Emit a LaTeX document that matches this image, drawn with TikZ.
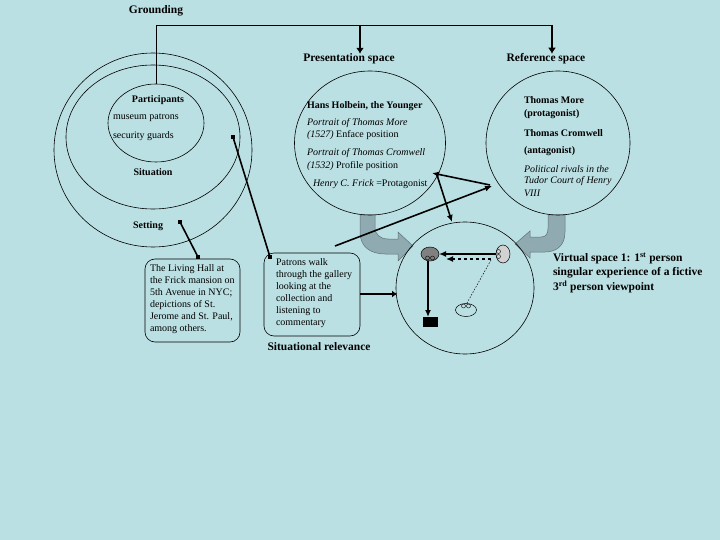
\documentclass[tikz,border=0pt]{standalone}
\usepackage{fontspec}
\setmainfont{Liberation Serif}
\usetikzlibrary{shapes.geometric,arrows.meta}
\definecolor{bg}{RGB}{187,224,227}
\definecolor{blockfill}{RGB}{143,170,176}
\definecolor{blockdraw}{RGB}{95,115,120}
\definecolor{darkgrey}{RGB}{128,128,128}
\definecolor{lightgrey}{RGB}{210,210,210}
\begin{document}
\begin{tikzpicture}[x=1pt,y=-1pt,
 every node/.style={inner sep=0pt,outer sep=0pt},
 title/.style={font=\fontsize{11.5}{14}\selectfont\bfseries},
 small/.style={font=\fontsize{10}{12}\selectfont},
 smallbold/.style={font=\fontsize{10}{12}\selectfont\bfseries},
 ring/.style={draw=black,line width=0.6pt,ellipse},
 thickline/.style={line width=1.6pt},
 tipped/.style={-{Latex[length=7pt,width=6pt]}},
 sq/.style={fill=black,rectangle,minimum size=4pt},
 box/.style={draw=black,line width=0.6pt,rounded corners=10pt,rectangle},
 block/.style={fill=blockfill,draw=blockdraw,line width=0.5pt},
 mini/.style={draw=black,line width=0.4pt,circle,minimum size=4.5pt},
]
\fill[bg] (0,0) rectangle (720,540);
\useasboundingbox (0,0) rectangle (720,540);

% titles
\node[title] (grounding) at (156,11) {Grounding};
\node[title] (prestitle) at (349,59) {Presentation space};
\node[title] (reftitle) at (546,59) {Reference space};

% block arrows
\path[block] (360,215) -- (360,232) .. controls (360,248) and (372,254) .. (385,254)
  -- (398,254) -- (398,261) -- (413,246) -- (398,232) -- (398,239) -- (388,239)
  .. controls (380,239) and (375,234) .. (375,228) -- (375,215) -- cycle;
\path[block] (565,215) -- (565,232) .. controls (565,246) and (556,252) .. (545,252)
  -- (530,252) -- (530,258) -- (515,244) -- (530,231) -- (530,237) -- (541,237)
  .. controls (546,237) and (548,234) .. (548,228) -- (548,215) -- cycle;

% grounding circles
\node[ring, minimum width=198pt, minimum height=194pt] (setting) at (153,150) {};
\node[ring, minimum width=174pt, minimum height=144pt] (situation) at (153,137) {};
\node[ring, minimum width=96pt, minimum height=78pt] (participants) at (156,123) {};
\node[smallbold] at (158,100) {Participants};
\node[small, anchor=west] at (113,118) {museum patrons};
\node[small, anchor=west] at (113,136) {security guards};
\node[smallbold] at (153,172) {Situation};
\node[smallbold] at (148,226) {Setting};

% presentation space
\node[ring, minimum width=151pt, minimum height=144pt] (presentation) at (370,143) {};
\node[smallbold, anchor=west] at (307,106) {Hans Holbein, the Younger};
\node[small, anchor=west] at (307,123) {\itshape Portrait of Thomas More};
\node[small, anchor=west] at (307,135) {\itshape (1527)\upshape{} Enface position};
\node[small, anchor=west] at (307,153) {\itshape Portrait of Thomas Cromwell};
\node[small, anchor=west] at (307,166) {\itshape (1532)\upshape{} Profile position};
\node[small, anchor=west] at (313,184) {\itshape Henry C. Frick\upshape{} =Protagonist};

% reference space
\node[ring, minimum width=144pt, minimum height=144pt] (reference) at (558,143) {};
\node[smallbold, anchor=west] at (524,100) {Thomas More};
\node[smallbold, anchor=west] at (524,114) {(protagonist)};
\node[smallbold, anchor=west] at (524,133) {Thomas Cromwell};
\node[smallbold, anchor=west] at (524,151) {(antagonist)};
\node[small, anchor=west] at (524,169) {\itshape Political rivals in the};
\node[small, anchor=west] at (524,181) {\itshape Tudor Court of Henry};
\node[small, anchor=west] at (524,193) {\itshape VIII};

% grounding connector
\coordinate (g1) at (156,25);
\coordinate (g2) at (552,25);
\coordinate (g3) at (360,25);
\draw[line width=0.8pt] (participants.north) -- (g1) -- (g2);
\draw[line width=1.6pt, -{Latex[length=6pt,width=8pt]}] (g3) -- (g3 |- prestitle.north);
\draw[line width=1.6pt, -{Latex[length=6pt,width=8pt]}] (g2) -- (g2 |- reftitle.north);

% virtual space
\node[ring, minimum width=138pt, minimum height=132pt] (virtual) at (465,288) {};
\node[draw=black, line width=0.5pt, fill=darkgrey, ellipse, minimum width=18pt, minimum height=14pt] (self) at (430,254) {};
\node[mini, minimum size=4pt] at (427.5,258) {};
\node[mini, minimum size=4pt] at (432.5,258) {};
\node[draw=black, line width=0.5pt, fill=lightgrey, ellipse, minimum width=14pt, minimum height=18pt] (other) at (503,254) {};
\node[mini, minimum size=4pt] at (498.5,251.5) {};
\node[mini, minimum size=4pt] at (498.5,256.5) {};
\node[draw=black, line width=0.5pt, ellipse, minimum width=21pt, minimum height=13pt] (viewer) at (466,310) {};
\node[mini, minimum size=4pt] at (463.5,306) {};
\node[mini, minimum size=4pt] at (468.5,306) {};
\node[fill=black, rectangle, minimum width=15pt, minimum height=10pt] (square) at (430.5,322) {};
\draw[thickline, tipped] (496,254) -- (self.east);
\draw[thickline, dashed, tipped] (491,259) -- (446,259);
\draw[thickline, tipped] (428,261) -- (428,317);
\draw[line width=0.5pt, dash pattern=on 1.5pt off 1.5pt] (491,260) -- (467,303);

% boxes
\node[box, minimum width=95pt, minimum height=83pt] (hall) at (192.5,300.5) {};
\node[small, anchor=north west, align=left] at (150,265) {The Living Hall at\\the Frick mansion on\\5th Avenue in NYC;\\depictions of St.\\Jerome and St. Paul,\\among others.};
\node[box, minimum width=96pt, minimum height=83pt] (patrons) at (312,294.5) {};
\node[small, anchor=north west, align=left] at (276,258.5) {Patrons walk\\through the gallery\\looking at the\\collection and\\listening to\\commentary};
\node[title] at (319,347) {Situational relevance};

\node[title, anchor=north west, align=left, font=\fontsize{11.5}{14.5}\selectfont\bfseries] at (553,252.5)
 {Virtual space 1: 1\textsuperscript{st} person\\singular experience of a fictive\\3\textsuperscript{rd} person viewpoint};

% connectors
\coordinate (s1) at (233,137);
\coordinate (p1) at (270,257);
\coordinate (s2) at (180,222);
\coordinate (h1) at (198,257);
\draw[thickline] (s1) -- (p1);
\node[sq] at (s1) {};
\node[sq] at (p1) {};
\draw[thickline] (s2) -- (h1);
\node[sq] at (s2) {};
\node[sq] at (h1) {};
\coordinate (pe) at (360,294);
\coordinate (ve) at (397,294);
\draw[line width=2pt, -{Latex[length=5pt,width=7pt]}] (pe) -- (ve);

\coordinate (t1) at (335,246);
\coordinate (t2) at (492,186);
\coordinate (t3) at (432,173);
\coordinate (t4) at (437,175);
\coordinate (t5) at (452,222);
\draw[thickline, tipped] (t1) -- (t2);
\draw[thickline, tipped] (490,185) -- (t3);
\draw[thickline, tipped] (t4) -- (t5);
\end{tikzpicture}
\end{document}
